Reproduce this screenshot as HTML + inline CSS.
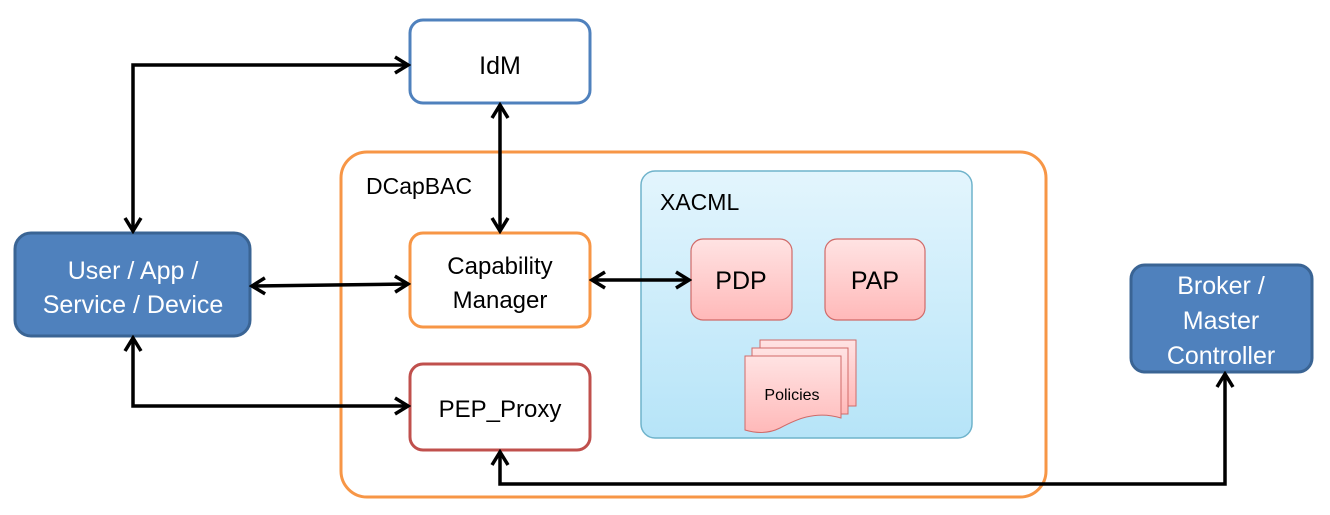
<!DOCTYPE html>
<html><head><meta charset="utf-8"><style>
html,body{margin:0;padding:0;background:#fff;width:1330px;height:515px;overflow:hidden}
text{font-family:"Liberation Sans",sans-serif}
</style></head><body>
<svg width="1330" height="515" viewBox="0 0 1330 515" xmlns="http://www.w3.org/2000/svg">
<defs>
<linearGradient id="xb" x1="0" y1="0" x2="0" y2="1"><stop offset="0" stop-color="#e3f5fd"/><stop offset="1" stop-color="#b6e4f8"/></linearGradient>
<linearGradient id="pk" x1="0" y1="0" x2="0" y2="1"><stop offset="0" stop-color="#ffe3e3"/><stop offset="1" stop-color="#ffb9b9"/></linearGradient>
<marker id="ah" viewBox="0 0 20 20" refX="17" refY="10" markerWidth="20" markerHeight="20" markerUnits="userSpaceOnUse" orient="auto-start-reverse">
<path d="M4,2 L17,10 L4,18" fill="none" stroke="#000" stroke-width="3.5"/></marker>
</defs>
<rect x="341" y="152" width="705" height="345" rx="26" fill="#fff" stroke="#f79646" stroke-width="3"/>
<text x="366" y="194" font-size="23">DCapBAC</text>
<rect x="641" y="171" width="331" height="267" rx="14" fill="url(#xb)" stroke="#6fb3cb" stroke-width="1.5"/>
<text x="660" y="210" font-size="23">XACML</text>
<rect x="691" y="239" width="101" height="81" rx="12" fill="url(#pk)" stroke="#d06a68" stroke-width="1.2"/>
<text x="741" y="289" font-size="25" text-anchor="middle">PDP</text>
<rect x="825" y="239" width="100" height="81" rx="12" fill="url(#pk)" stroke="#d06a68" stroke-width="1.2"/>
<text x="875" y="289" font-size="25" text-anchor="middle">PAP</text>
<rect x="760" y="340" width="96" height="66" fill="url(#pk)" stroke="#d06a68" stroke-width="1"/>
<rect x="752" y="348" width="96" height="66" fill="url(#pk)" stroke="#d06a68" stroke-width="1"/>
<path d="M745,356 L841,356 L841,418 C815,410 795,420 780,428 C768,434 755,433 745,430 Z" fill="url(#pk)" stroke="#d06a68" stroke-width="1"/>
<text x="792" y="400" font-size="16" text-anchor="middle">Policies</text>
<rect x="410" y="20" width="180" height="83" rx="13" fill="#fff" stroke="#4f81bd" stroke-width="3"/>
<text x="500" y="74" font-size="25" text-anchor="middle">IdM</text>
<rect x="410" y="233" width="180" height="94" rx="13" fill="#fff" stroke="#f79646" stroke-width="3"/>
<text x="500" y="274" font-size="24" text-anchor="middle">Capability</text>
<text x="500" y="308" font-size="24" text-anchor="middle">Manager</text>
<rect x="410" y="364" width="180" height="86" rx="13" fill="#fff" stroke="#c0504d" stroke-width="3"/>
<text x="500" y="417" font-size="24" text-anchor="middle">PEP_Proxy</text>
<rect x="15" y="233" width="235" height="103" rx="16" fill="#4f81bd" stroke="#3a6494" stroke-width="3"/>
<text x="133" y="279" font-size="25" fill="#fff" text-anchor="middle">User / App /</text>
<text x="133" y="313" font-size="25" fill="#fff" text-anchor="middle">Service / Device</text>
<rect x="1131" y="265" width="181" height="107" rx="14" fill="#4f81bd" stroke="#3a6494" stroke-width="3"/>
<text x="1221" y="294" font-size="25" fill="#fff" text-anchor="middle">Broker /</text>
<text x="1221" y="329" font-size="25" fill="#fff" text-anchor="middle">Master</text>
<text x="1221" y="364" font-size="25" fill="#fff" text-anchor="middle">Controller</text>
<g fill="none" stroke="#000" stroke-width="3.5" marker-start="url(#ah)" marker-end="url(#ah)">
<path d="M133,231 L133,65 L408,65"/>
<path d="M252,286 L408,284"/>
<path d="M133,338 L133,406 L408,406"/>
<path d="M500,105 L500,231"/>
<path d="M592,280 L689,280"/>
<path d="M500,452 L500,484 L1225,484 L1225,374"/>
</g>
</svg>
</body></html>
